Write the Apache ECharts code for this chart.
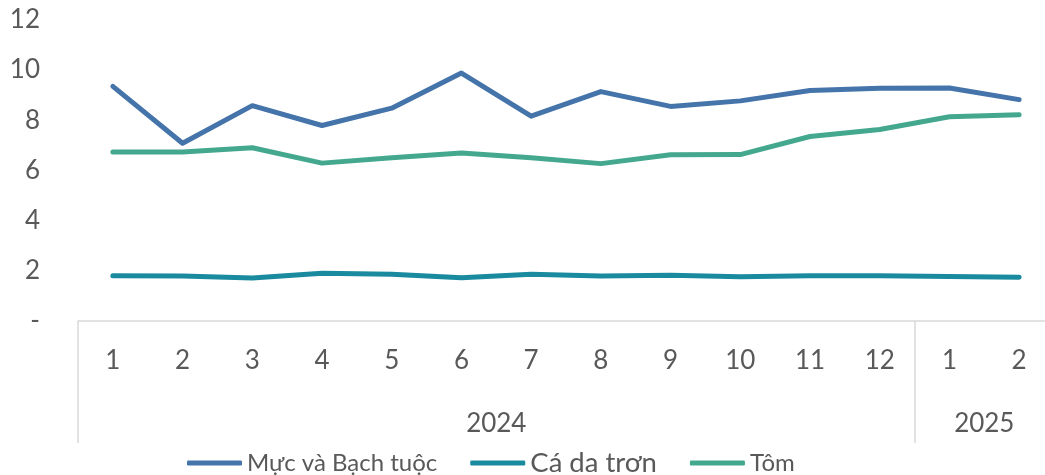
<!DOCTYPE html>
<html>
<head>
<meta charset="utf-8">
<script src="https://cdn.jsdelivr.net/npm/echarts@6/dist/echarts.min.js"></script>
<style>
  html, body { margin: 0; padding: 0; background: #fff; }
  #chart { width: 1045px; height: 475px; }
</style>
</head>
<body>
<div id="chart"></div>
<script>
// months per year, two-level axis
const months = ["1", "2", "3", "4", "5", "6", "7", "8", "9", "10", "11", "12", "1", "2"];
const years = ["2024", "2025"];
const yearStarts = [0, 12, 14]; // group boundaries in category units
const yearCenters = [6, 13];

const seriesNames = ["Mực và Bạch tuộc", "Cá da trơn", "Tôm"];
const mucValues = [9.35, 7.08, 8.58, 7.79, 8.48, 9.88, 8.16, 9.14, 8.55, 8.77, 9.18, 9.27, 9.28, 8.82];
const caValues = [1.8, 1.79, 1.71, 1.9, 1.86, 1.72, 1.86, 1.79, 1.82, 1.76, 1.8, 1.8, 1.77, 1.74];
const tomValues = [6.73, 6.73, 6.9, 6.29, 6.5, 6.69, 6.5, 6.27, 6.62, 6.63, 7.35, 7.63, 8.14, 8.22];

const colors = ["#4474AA", "#1A8A9F", "#44A88F"];
const font = "Lato, 'Noto Sans', sans-serif";
const gray = "#595959";

const chart = echarts.init(document.getElementById("chart"));

function line(name, data, color) {
  return {
    name,
    type: "line",
    data,
    symbol: "none",
    xAxisIndex: 0,
    lineStyle: { color, width: 5, cap: "round", join: "round" },
    itemStyle: { color },
  };
}

chart.setOption({
  animation: false,
  grid: {
    left: 78,
    top: 19.8,
    width: 976,
    height: 301.2,
    outerBoundsMode: "none",
  },
  legend: {
    left: 182,
    top: 444,
    itemWidth: 55,
    itemHeight: 5,
    itemGap: 33,
    icon: "roundRect",
    textStyle: { fontFamily: font, fontSize: 24, color: gray },
    data: [
      { name: seriesNames[0] },
      { name: seriesNames[1], textStyle: { fontSize: 27.5 } },
      { name: seriesNames[2] },
    ],
  },
  xAxis: [
    {
      type: "category",
      data: months,
      boundaryGap: true,
      axisLine: { show: true, lineStyle: { color: "#D9D9D9", width: 1.5 } },
      axisTick: { show: false },
      axisLabel: { color: gray, fontFamily: font, fontSize: 26, margin: 27 },
    },
    {
      type: "value",
      position: "bottom",
      min: 0,
      max: 14,
      axisLine: { show: false },
      splitLine: { show: false },
      axisTick: {
        show: true,
        length: 122,
        customValues: yearStarts,
        lineStyle: { color: "#D9D9D9", width: 1.5 },
      },
      axisLabel: {
        show: true,
        customValues: yearCenters,
        formatter: (v) => years[yearCenters.indexOf(v)],
        color: gray,
        fontFamily: font,
        fontSize: 26,
        margin: 90,
      },
    },
  ],
  yAxis: {
    type: "value",
    min: 0,
    max: 12,
    interval: 2,
    axisLine: { show: false },
    axisTick: { show: false },
    splitLine: { show: false },
    axisLabel: {
      color: gray,
      fontFamily: font,
      fontSize: 26,
      margin: 38,
      formatter: (v) => (v === 0 ? "-" : String(v)),
    },
  },
  series: [
    line(seriesNames[0], mucValues, colors[0]),
    line(seriesNames[1], caValues, colors[1]),
    line(seriesNames[2], tomValues, colors[2]),
  ],
});
</script>
</body>
</html>
